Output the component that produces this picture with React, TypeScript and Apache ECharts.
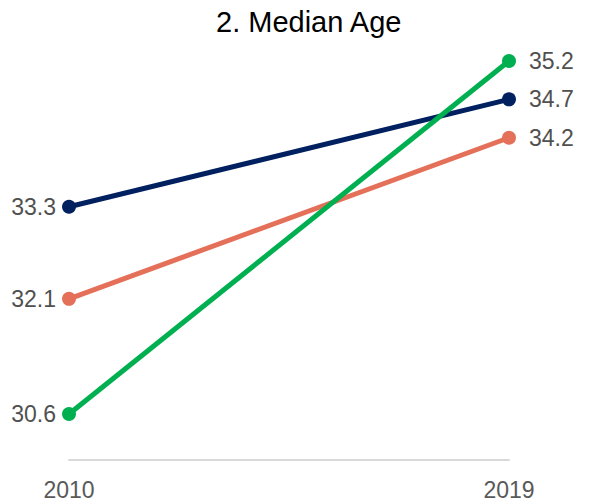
import React, { useEffect, useRef } from "react";
import * as echarts from "echarts";

const years = ["2010", "2019"];
const seriesNames = ["Series A", "Series B", "Series C"];
const navyValues = [33.3, 34.7];
const orangeValues = [32.1, 34.2];
const greenValues = [30.6, 35.2];
const colors = ["#002060", "#E5705A", "#00B050"];

export default function App() {
  const ref = useRef<HTMLDivElement>(null);
  useEffect(() => {
    const chart = echarts.init(ref.current!, undefined, { renderer: "svg" });
    const font = "Liberation Sans, Arial, sans-serif";
    const mk = (name: string, data: number[], color: string) => ({
      name,
      type: "line",
      symbol: "circle",
      symbolSize: 14,
      lineStyle: { width: 5, color },
      itemStyle: { color },
      label: {
        show: true,
        fontSize: 23,
        fontFamily: font,
        color: "#505050",
        formatter: (p: any) => p.value.toFixed(1),
      },
      emphasis: { disabled: true },
      data: data.map((v: number, i: number) => ({
        value: v,
        label: i === 0 ? { position: "left", distance: 6 } : { position: "right", distance: 13 },
      })),
    });
    chart.setOption({
      animation: false,
      title: {
        text: "2. Median Age",
        left: 211,
        top: 2,
        textStyle: { fontSize: 29, fontWeight: "normal", color: "#000", fontFamily: font },
      },
      grid: { left: 69, right: 81, top: 61, bottom: 43 },
      xAxis: {
        type: "category",
        data: years,
        boundaryGap: false,
        axisLine: { lineStyle: { color: "#D9D9D9", width: 2 } },
        axisTick: { show: false },
        axisLabel: { fontSize: 23, color: "#595959", fontFamily: font, margin: 18 },
      },
      yAxis: {
        type: "value",
        min: 30,
        max: 35.2,
        show: false,
        splitLine: { show: false },
      },
      series: [
        mk(seriesNames[0], navyValues, colors[0]),
        mk(seriesNames[1], orangeValues, colors[1]),
        mk(seriesNames[2], greenValues, colors[2]),
      ],
    });
    return () => chart.dispose();
  }, []);
  return <div ref={ref} style={{ width: 590, height: 503, position: "absolute", left: 0, top: 0 }} />;
}
